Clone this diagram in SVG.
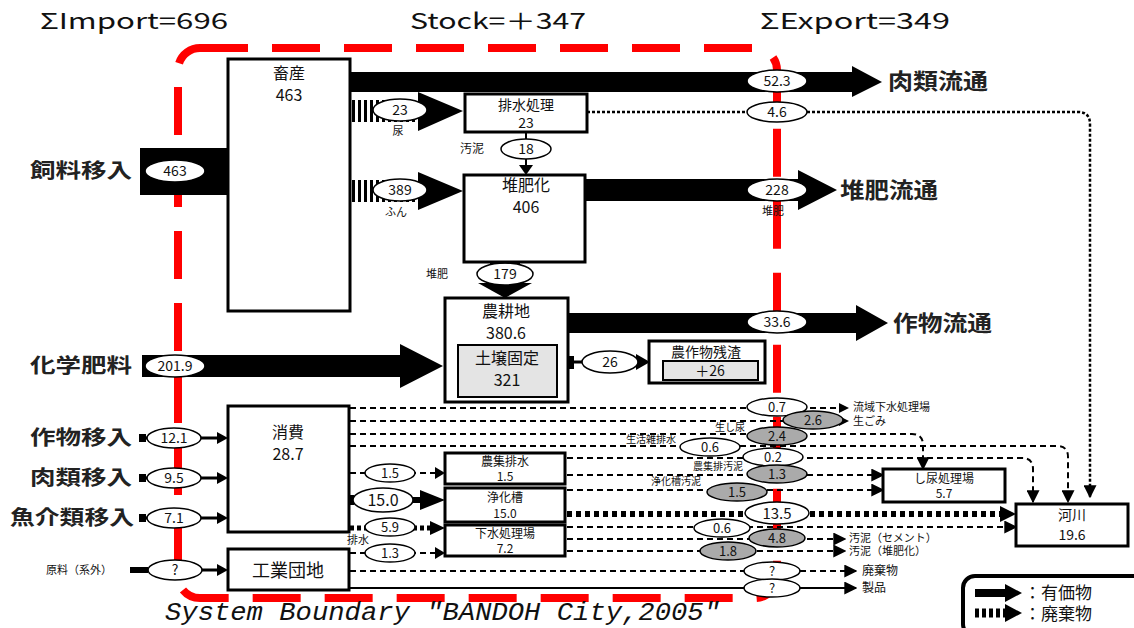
<svg xmlns="http://www.w3.org/2000/svg" width="1134" height="628" viewBox="0 0 1134 628">
<style>
.box{fill:#fff;stroke:#000;stroke-width:3}
.gbox{fill:#e4e4e4;stroke:#000;stroke-width:2}
.ell{fill:#fff;stroke:#000;stroke-width:1.5}
.gell{fill:#aaa;stroke:#000;stroke-width:1.5}
.t{font-family:"Noto Sans CJK JP","Liberation Sans",sans-serif;text-anchor:middle;fill:#111}
.s{font-family:"Noto Sans CJK JP","Liberation Sans",sans-serif;fill:#111}
.big{font-family:"Noto Sans CJK JP",sans-serif;font-size:20px;font-weight:bold;fill:#222}
.dash{stroke:#000;stroke-width:2;stroke-dasharray:6 4;fill:none}
.dot{stroke:#000;stroke-width:2.5;stroke-dasharray:3 2;fill:none}
.waste{stroke:#000;stroke-width:6;stroke-dasharray:5 4;fill:none}
.sol{stroke:#000;stroke-width:2;fill:none}
</style>
<defs>
<marker id="ah" viewBox="0 0 10 10" refX="9" refY="5" markerWidth="10" markerHeight="10" markerUnits="userSpaceOnUse" orient="auto">
<path d="M0,0 L10,5 L0,10 z" fill="#000"/>
</marker>
<marker id="ahb" viewBox="0 0 10 10" refX="9" refY="5" markerWidth="13" markerHeight="13" markerUnits="userSpaceOnUse" orient="auto">
<path d="M0,0 L10,5 L0,10 z" fill="#000"/>
</marker>
</defs>
<rect width="1134" height="628" fill="#fff"/>

<!-- header -->
<g id="header" class="s" font-size="22">
<text x="40" y="29" textLength="188" lengthAdjust="spacingAndGlyphs">ΣImport=696</text>
<text x="410" y="29" textLength="176" lengthAdjust="spacingAndGlyphs">Stock=＋347</text>
<text x="760" y="29" textLength="190" lengthAdjust="spacingAndGlyphs">ΣExport=349</text>
</g>

<!-- system boundary -->
<g id="boundary">
<rect x="178" y="48" width="599" height="550" rx="22" fill="none" stroke="#f00" stroke-width="8" stroke-dasharray="48 24"/>
<text x="165" y="620" font-family="'Liberation Mono', monospace" font-style="italic" font-size="26" fill="#111" textLength="555" lengthAdjust="spacingAndGlyphs">System Boundary "BANDOH City,2005"</text>
</g>

<!-- connectors -->
<g id="connectors">
<!-- 肉類流通 -->
<polygon points="350,72 852,72 852,66 882,82 852,97 852,92 350,92" fill="#000"/>
<ellipse class="ell" cx="777" cy="81" rx="30" ry="11"/>
<text class="t" x="777" y="86" font-size="14">52.3</text>
<!-- 4.6 -->
<path class="dot" d="M587,112 H1078 Q1090,112 1090,124 V497" marker-end="url(#ahb)"/>
<ellipse class="ell" cx="777" cy="112" rx="30" ry="10"/>
<text class="t" x="777" y="117" font-size="14">4.6</text>
<!-- 尿 23 -->
<line x1="352" y1="111" x2="420" y2="111" stroke="#000" stroke-width="22" stroke-dasharray="3 3"/>
<polygon points="418,92 463,111 418,131" fill="#000"/>
<ellipse class="ell" cx="400" cy="110" rx="27" ry="11"/>
<text class="t" x="400" y="115" font-size="14">23</text>
<text class="t" x="398" y="135" font-size="11">尿</text>
<!-- ふん 389 -->
<line x1="352" y1="191" x2="420" y2="191" stroke="#000" stroke-width="22" stroke-dasharray="3 3"/>
<polygon points="418,172 463,191 418,210" fill="#000"/>
<ellipse class="ell" cx="400" cy="190" rx="27" ry="11"/>
<text class="t" x="400" y="195" font-size="14">389</text>
<text class="t" x="396" y="216" font-size="11">ふん</text>
<!-- 汚泥 18 -->
<line x1="526" y1="133" x2="526" y2="168" stroke="#000" stroke-width="2"/>
<polygon points="519,165 533,165 526,175" fill="#000"/>
<ellipse class="ell" cx="526" cy="149" rx="25" ry="10"/>
<text class="t" x="526" y="154" font-size="14">18</text>
<text class="t" x="472" y="153" font-size="12">汚泥</text>
<!-- 堆肥流通 -->
<polygon points="585,179 798,179 798,170 837,190 798,210 798,201 585,201" fill="#000"/>
<ellipse class="ell" cx="777" cy="190" rx="30" ry="11"/>
<text class="t" x="777" y="195" font-size="14">228</text>
<text class="t" x="773" y="215" font-size="11">堆肥</text>
<!-- 堆肥 179 -->
<rect x="490" y="262" width="30" height="24" fill="#000"/>
<polygon points="478,283 532,283 505,298" fill="#000"/>
<ellipse class="ell" cx="505" cy="274" rx="28" ry="11"/>
<text class="t" x="505" y="279" font-size="14">179</text>
<text class="t" x="437" y="278" font-size="11">堆肥</text>
<!-- 作物流通 -->
<polygon points="568,313 856,313 856,305 888,323 856,341 856,333 568,333" fill="#000"/>
<ellipse class="ell" cx="777" cy="322" rx="30" ry="11"/>
<text class="t" x="777" y="327" font-size="14">33.6</text>
<!-- 化学肥料 -->
<polygon points="142,355 400,355 400,344 443,366 400,388 400,377 142,377" fill="#000"/>
<ellipse class="ell" cx="175" cy="366" rx="30" ry="11"/>
<text class="t" x="175" y="371" font-size="14">201.9</text>
<!-- 飼料移入 -->
<rect x="140" y="148" width="88" height="47" fill="#000"/>
<ellipse class="ell" cx="175" cy="171" rx="30" ry="11"/>
<text class="t" x="175" y="176" font-size="14">463</text>
<!-- 26 -->
<rect x="568" y="356" width="6" height="13" fill="#000"/>
<line x1="574" y1="362" x2="640" y2="362" stroke="#000" stroke-width="3"/>
<polygon points="636,354 650,362 636,370" fill="#000"/>
<ellipse class="ell" cx="610" cy="362" rx="28" ry="11"/>
<text class="t" x="610" y="367" font-size="14">26</text>
<!-- imports to 消費 -->
<rect x="139" y="434" width="7" height="8" fill="#000"/>
<line x1="146" y1="438" x2="220" y2="438" stroke="#000" stroke-width="3"/>
<polygon points="217,432 228,438 217,444" fill="#000"/>
<ellipse class="ell" cx="174" cy="438" rx="27" ry="10"/>
<text class="t" x="174" y="443" font-size="14">12.1</text>
<rect x="139" y="474" width="7" height="8" fill="#000"/>
<line x1="146" y1="478" x2="220" y2="478" stroke="#000" stroke-width="3"/>
<polygon points="217,472 228,478 217,484" fill="#000"/>
<ellipse class="ell" cx="174" cy="478" rx="27" ry="10"/>
<text class="t" x="174" y="483" font-size="14">9.5</text>
<rect x="139" y="514" width="7" height="8" fill="#000"/>
<line x1="146" y1="518" x2="220" y2="518" stroke="#000" stroke-width="3"/>
<polygon points="217,512 228,518 217,524" fill="#000"/>
<ellipse class="ell" cx="174" cy="518" rx="27" ry="10"/>
<text class="t" x="174" y="523" font-size="14">7.1</text>
<!-- 原料 -->
<rect x="130" y="567" width="18" height="6" fill="#000"/>
<line x1="148" y1="570" x2="220" y2="570" stroke="#000" stroke-width="3"/>
<polygon points="217,564 228,570 217,576" fill="#000"/>
<ellipse class="ell" cx="175" cy="570" rx="27" ry="10"/>
<text class="t" x="175" y="575" font-size="14">?</text>
<!-- 消費 -> treatment -->
<path class="dash" d="M350,473 H437"/>
<polygon points="435,467 445,473 435,479" fill="#000"/>
<ellipse class="ell" cx="390" cy="473" rx="25" ry="9"/>
<text class="t" x="390" y="478" font-size="13">1.5</text>
<rect x="348" y="495" width="6" height="10" fill="#000"/>
<line x1="354" y1="500" x2="425" y2="500" stroke="#000" stroke-width="6"/>
<polygon points="420,490 445,500 420,510" fill="#000"/>
<ellipse class="ell" cx="383" cy="500" rx="30" ry="12"/>
<text class="t" x="383" y="506" font-size="16">15.0</text>
<line x1="350" y1="528" x2="432" y2="528" stroke="#000" stroke-width="5" stroke-dasharray="4 3"/>
<polygon points="430,521 445,528 430,535" fill="#000"/>
<ellipse class="ell" cx="390" cy="527" rx="25" ry="9"/>
<text class="t" x="390" y="532" font-size="13">5.9</text>
<path class="dash" d="M350,553 H437"/>
<polygon points="435,547 445,553 435,559" fill="#000"/>
<ellipse class="ell" cx="390" cy="553" rx="25" ry="9"/>
<text class="t" x="390" y="558" font-size="13">1.3</text>
<text class="t" x="358" y="544" font-size="11">排水</text>
<!-- outputs right -->
<path class="dash" d="M350,408 H848" marker-end="url(#ah)"/>
<ellipse class="ell" cx="777" cy="407" rx="30" ry="9"/>
<text class="t" x="777" y="412" font-size="13">0.7</text>
<path class="dash" d="M350,421 H848" marker-end="url(#ah)"/>
<ellipse class="gell" cx="813" cy="420" rx="30" ry="9"/>
<text class="t" x="813" y="425" font-size="13">2.6</text>
<path class="dash" d="M350,434 H912 Q923,434 923,445 V469" marker-end="url(#ahb)"/>
<ellipse class="gell" cx="777" cy="436" rx="30" ry="9"/>
<text class="t" x="777" y="441" font-size="13">2.4</text>
<text class="t" x="730" y="431" font-size="10">生し尿</text>
<path class="dash" d="M350,446 H1057 Q1068,446 1068,457 V502" marker-end="url(#ahb)"/>
<ellipse class="ell" cx="710" cy="447" rx="30" ry="9"/>
<text class="t" x="710" y="452" font-size="13">0.6</text>
<text class="t" x="651" y="443" font-size="10">生活雑排水</text>
<path class="dash" d="M567,458 H1022 Q1033,458 1033,469 V502" marker-end="url(#ahb)"/>
<ellipse class="ell" cx="773" cy="457" rx="30" ry="9"/>
<text class="t" x="773" y="462" font-size="13">0.2</text>
<path class="dash" d="M567,475 H883" marker-end="url(#ahb)"/>
<ellipse class="gell" cx="777" cy="474" rx="30" ry="9"/>
<text class="t" x="777" y="479" font-size="13">1.3</text>
<text class="t" x="718" y="470" font-size="10">農集排汚泥</text>
<path class="dash" d="M567,490 H883" marker-end="url(#ahb)"/>
<ellipse class="gell" cx="737" cy="492" rx="30" ry="9"/>
<text class="t" x="737" y="497" font-size="13">1.5</text>
<text class="t" x="676" y="485" font-size="10">浄化槽汚泥</text>
<path class="waste" d="M567,514 H1003"/>
<polygon points="1000,506 1016,514 1000,522" fill="#000"/>
<ellipse class="ell" cx="777" cy="513" rx="32" ry="11"/>
<text class="t" x="777" y="519" font-size="15">13.5</text>
<path class="dash" d="M567,527 H1016" marker-end="url(#ahb)"/>
<ellipse class="ell" cx="722" cy="528" rx="28" ry="9"/>
<text class="t" x="722" y="533" font-size="13">0.6</text>
<path class="dash" d="M567,539 H845" marker-end="url(#ahb)"/>
<ellipse class="gell" cx="777" cy="538" rx="28" ry="9"/>
<text class="t" x="777" y="543" font-size="13">4.8</text>
<path class="dash" d="M567,551 H845" marker-end="url(#ahb)"/>
<ellipse class="gell" cx="728" cy="551" rx="28" ry="9"/>
<text class="t" x="728" y="556" font-size="13">1.8</text>
<path class="dash" d="M350,571 H856" marker-end="url(#ahb)"/>
<ellipse class="ell" cx="772" cy="571" rx="28" ry="9"/>
<text class="t" x="772" y="576" font-size="13">?</text>
<path class="sol" d="M350,588 H856" marker-end="url(#ahb)"/>
<ellipse class="ell" cx="772" cy="588" rx="28" ry="9"/>
<text class="t" x="772" y="593" font-size="13">?</text>
</g>

<!-- outside labels -->
<g id="labels" class="big">
<text x="30" y="178" textLength="102" lengthAdjust="spacingAndGlyphs">飼料移入</text>
<text x="30" y="373" textLength="102" lengthAdjust="spacingAndGlyphs">化学肥料</text>
<text x="30" y="445" textLength="102" lengthAdjust="spacingAndGlyphs">作物移入</text>
<text x="30" y="485" textLength="102" lengthAdjust="spacingAndGlyphs">肉類移入</text>
<text x="10" y="525" textLength="124" lengthAdjust="spacingAndGlyphs">魚介類移入</text>
<text x="888" y="89" font-size="22" textLength="100" lengthAdjust="spacingAndGlyphs">肉類流通</text>
<text x="840" y="198" font-size="22" textLength="98" lengthAdjust="spacingAndGlyphs">堆肥流通</text>
<text x="893" y="331" font-size="22" textLength="99" lengthAdjust="spacingAndGlyphs">作物流通</text>
</g>
<g id="small-labels" class="s" font-size="11">
<text x="46" y="574">原料（系外）</text>
<text x="853" y="411">流域下水処理場</text>
<text x="853" y="425">生ごみ</text>
<text x="849" y="542">汚泥（セメント）</text>
<text x="849" y="555">汚泥（堆肥化）</text>
<text x="862" y="575" font-size="12">廃棄物</text>
<text x="862" y="592" font-size="12">製品</text>
</g>

<!-- nodes -->
<g id="n-chikusan"><rect class="box" x="228" y="59" width="122" height="252"/>
<text class="t" x="289" y="79" font-size="16">畜産</text><text class="t" x="289" y="101" font-size="16">463</text></g>
<g id="n-haisui"><rect class="box" x="465" y="94" width="122" height="38"/>
<text class="t" x="526" y="110" font-size="14">排水処理</text><text class="t" x="526" y="128" font-size="14">23</text></g>
<g id="n-taihi"><rect class="box" x="464" y="175" width="121" height="87"/>
<text class="t" x="526" y="191" font-size="16">堆肥化</text><text class="t" x="526" y="213" font-size="16">406</text></g>
<g id="n-nouchi"><rect class="box" x="445" y="298" width="123" height="104"/>
<text class="t" x="506" y="317" font-size="16">農耕地</text><text class="t" x="506" y="339" font-size="16">380.6</text>
<rect class="gbox" x="458" y="345" width="99" height="52"/>
<text class="t" x="507" y="364" font-size="16">土壌固定</text><text class="t" x="507" y="386" font-size="16">321</text></g>
<g id="n-zansa"><rect class="box" x="649" y="341" width="116" height="42"/>
<text class="t" x="706" y="357" font-size="14">農作物残渣</text>
<rect class="gbox" x="663" y="361" width="95" height="19"/>
<text class="t" x="710" y="376" font-size="14">＋26</text></g>
<g id="n-shohi"><rect class="box" x="228" y="406" width="121" height="126"/>
<text class="t" x="288" y="438" font-size="16">消費</text><text class="t" x="288" y="460" font-size="16">28.7</text></g>
<g id="n-kougyou"><rect class="box" x="228" y="549" width="121" height="41"/>
<text class="t" x="288" y="577" font-size="18">工業団地</text></g>
<g id="n-noushuu"><rect class="box" x="445" y="453" width="120" height="31"/>
<text class="t" x="505" y="466" font-size="12">農集排水</text><text class="t" x="505" y="481" font-size="12">1.5</text></g>
<g id="n-jouka"><rect class="box" x="445" y="488" width="120" height="34"/>
<text class="t" x="505" y="502" font-size="12">浄化槽</text><text class="t" x="505" y="518" font-size="12">15.0</text></g>
<g id="n-gesui"><rect class="box" x="445" y="525" width="120" height="31"/>
<text class="t" x="505" y="538" font-size="12">下水処理場</text><text class="t" x="505" y="553" font-size="12">7.2</text></g>
<g id="n-shinyou"><rect class="box" x="883" y="469" width="122" height="33"/>
<text class="t" x="944" y="483" font-size="12">し尿処理場</text><text class="t" x="944" y="498" font-size="12">5.7</text></g>
<g id="n-kasen"><rect class="box" stroke-width="4" x="1016" y="504" width="112" height="42"/>
<text class="t" x="1072" y="520" font-size="14">河川</text><text class="t" x="1072" y="540" font-size="14">19.6</text></g>

<!-- legend -->
<g id="legend">
<rect x="963" y="576" width="185" height="60" rx="12" fill="#fff" stroke="#000" stroke-width="4"/>
<polygon points="975,589 1005,589 1005,584 1022,593 1005,602 1005,597 975,597" fill="#000"/>
<line x1="975" y1="613" x2="1006" y2="613" stroke="#000" stroke-width="9" stroke-dasharray="4 3"/>
<polygon points="1005,604 1022,613 1005,622" fill="#000"/>
<text class="s" x="1024" y="599" font-size="17">：有価物</text>
<text class="s" x="1024" y="620" font-size="17">：廃棄物</text>
</g>
</svg>
